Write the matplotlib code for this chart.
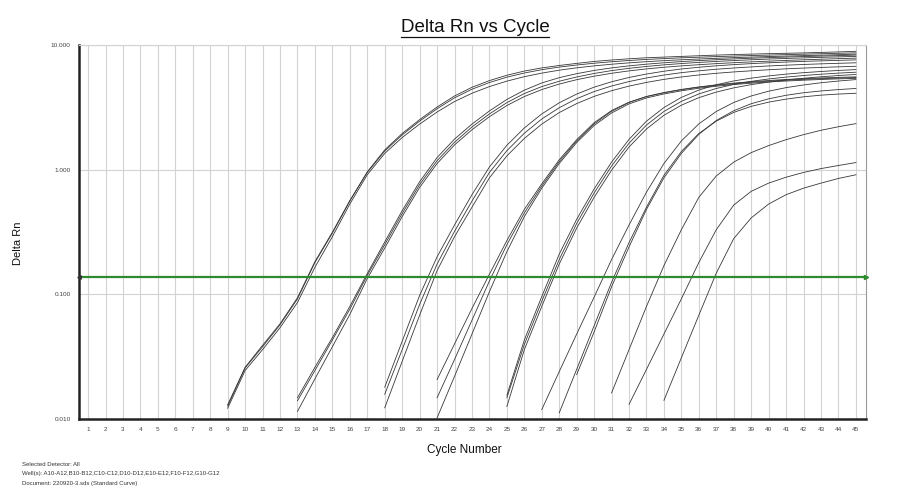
import numpy as np
import matplotlib
matplotlib.use("Agg")
import matplotlib.pyplot as plt
from matplotlib.lines import Line2D
from matplotlib.ticker import NullLocator

plt.rcParams['font.family'] = ['Liberation Sans', 'DejaVu Sans']

# ---------------- data ----------------
cycle_numbers = list(range(1, 46))
y_tick_values = [0.01, 0.1, 1.0, 10.0]
y_tick_labels = ["0.010", "0.100", "1.000", "10.000"]
threshold = 0.139

# first cycle drawn for each well (earlier cycles are below 0.010)
start_cycle = {
    "A10": 9, "A11": 9, "A12": 9,
    "B10": 13, "B11": 13, "B12": 13,
    "C10": 18, "C11": 18, "C12": 18,
    "D10": 21, "D11": 21, "D12": 21,
    "E10": 25, "E11": 25, "E12": 25,
    "F10": 27, "F11": 28, "F12": 29,
    "G10": 31, "G11": 32, "G12": 34,
}

A10 = [0.0127, 0.0257, 0.038, 0.057, 0.092, 0.18, 0.31, 0.56, 0.96, 1.44, 1.95, 2.52, 3.18, 3.90,
       4.58, 5.18, 5.72, 6.18, 6.55, 6.85, 7.12, 7.38, 7.58, 7.75, 7.90, 8.00, 8.10, 8.20, 8.30,
       8.38, 8.45, 8.52, 8.58, 8.64, 8.72, 8.80, 8.90]
A11 = [0.0122, 0.0245, 0.036, 0.054, 0.086, 0.165, 0.29, 0.53, 0.91, 1.35, 1.81, 2.32, 2.90, 3.52,
       4.10, 4.64, 5.13, 5.57, 5.95, 6.28, 6.56, 6.80, 7.01, 7.19, 7.35, 7.49, 7.61, 7.72, 7.82,
       7.92, 8.00, 8.08, 8.15, 8.22, 8.29, 8.36, 8.45]
A12 = [0.0130, 0.026, 0.039, 0.058, 0.094, 0.183, 0.315, 0.565, 0.95, 1.41, 1.90, 2.45, 3.08, 3.77,
       4.42, 5.00, 5.52, 5.96, 6.34, 6.65, 6.91, 7.14, 7.34, 7.51, 7.66, 7.78, 7.89, 7.98, 8.07,
       8.15, 8.23, 8.30, 8.37, 8.44, 8.51, 8.58, 8.65]
B10 = [0.0148, 0.026, 0.045, 0.080, 0.147, 0.263, 0.469, 0.80, 1.25, 1.76, 2.32, 2.96, 3.66, 4.34,
       4.96, 5.47, 5.89, 6.25, 6.55, 6.80, 7.02, 7.20, 7.36, 7.50, 7.62, 7.73, 7.83, 7.92, 8.00,
       8.08, 8.15, 8.22, 8.30]
B11 = [0.0115, 0.021, 0.038, 0.069, 0.134, 0.235, 0.42, 0.72, 1.12, 1.58, 2.09, 2.66, 3.27, 3.86,
       4.39, 4.86, 5.27, 5.62, 5.93, 6.20, 6.43, 6.63, 6.80, 6.95, 7.09, 7.21, 7.32, 7.42, 7.52,
       7.61, 7.69, 7.77, 7.85]
B12 = [0.0140, 0.0245, 0.043, 0.076, 0.142, 0.25, 0.445, 0.76, 1.18, 1.66, 2.20, 2.80, 3.45, 4.08,
       4.64, 5.12, 5.54, 5.91, 6.23, 6.50, 6.73, 6.93, 7.10, 7.25, 7.38, 7.50, 7.61, 7.71, 7.80,
       7.88, 7.96, 8.03, 8.10]
C10 = [0.018, 0.042, 0.098, 0.20, 0.36, 0.63, 1.05, 1.57, 2.16, 2.80, 3.44, 4.04, 4.59, 5.07,
       5.49, 5.85, 6.16, 6.42, 6.63, 6.81, 6.96, 7.09, 7.20, 7.30, 7.39, 7.46, 7.53, 7.60]
C11 = [0.0158, 0.036, 0.083, 0.175, 0.32, 0.56, 0.95, 1.42, 1.96, 2.55, 3.14, 3.71, 4.23, 4.69,
       5.09, 5.44, 5.74, 6.00, 6.21, 6.39, 6.54, 6.67, 6.79, 6.89, 6.98, 7.06, 7.13, 7.20]
C12 = [0.0123, 0.029, 0.068, 0.155, 0.29, 0.50, 0.86, 1.29, 1.78, 2.32, 2.87, 3.39, 3.87, 4.30,
       4.68, 5.01, 5.30, 5.54, 5.75, 5.93, 6.08, 6.21, 6.33, 6.44, 6.53, 6.61, 6.68, 6.75]
D10 = [0.0207, 0.040, 0.077, 0.145, 0.27, 0.48, 0.77, 1.20, 1.74, 2.38, 2.98, 3.48, 3.86, 4.14,
       4.38, 4.58, 4.75, 4.90, 5.02, 5.13, 5.22, 5.30, 5.37, 5.43, 5.48]
D11 = [0.0148, 0.030, 0.062, 0.128, 0.25, 0.45, 0.74, 1.16, 1.70, 2.33, 2.94, 3.46, 3.86, 4.15,
       4.40, 4.61, 4.79, 4.95, 5.08, 5.19, 5.29, 5.37, 5.44, 5.50, 5.55]
D12 = [0.0102, 0.022, 0.048, 0.105, 0.22, 0.42, 0.71, 1.12, 1.65, 2.26, 2.85, 3.37, 3.76, 4.05,
       4.29, 4.50, 4.67, 4.82, 4.94, 5.05, 5.14, 5.22, 5.29, 5.35, 5.40]
E10 = [0.0155, 0.043, 0.096, 0.21, 0.40, 0.70, 1.15, 1.75, 2.45, 3.15, 3.80, 4.35, 4.80, 5.15,
       5.42, 5.65, 5.84, 6.00, 6.13, 6.25, 6.35]
E11 = [0.0148, 0.0396, 0.088, 0.19, 0.37, 0.65, 1.07, 1.63, 2.28, 2.93, 3.53, 4.05, 4.48, 4.83,
       5.11, 5.34, 5.53, 5.69, 5.83, 5.95, 6.05]
E12 = [0.0126, 0.036, 0.080, 0.175, 0.34, 0.60, 0.99, 1.52, 2.12, 2.73, 3.29, 3.78, 4.19, 4.53,
       4.81, 5.04, 5.24, 5.41, 5.56, 5.69, 5.80]
F10 = [0.0119, 0.024, 0.048, 0.095, 0.19, 0.36, 0.66, 1.12, 1.70, 2.33, 2.93, 3.46, 3.90, 4.26,
       4.55, 4.78, 4.98, 5.14, 5.28]
F11 = [0.0112, 0.025, 0.056, 0.125, 0.26, 0.50, 0.90, 1.40, 1.95, 2.45, 2.88, 3.22, 3.48, 3.68,
       3.84, 3.96, 4.04, 4.10]
F12 = [0.0227, 0.050, 0.115, 0.24, 0.48, 0.86, 1.35, 1.92, 2.48, 2.97, 3.38, 3.70, 3.95, 4.14,
       4.28, 4.39, 4.48]
G10 = [0.0162, 0.036, 0.080, 0.17, 0.33, 0.60, 0.89, 1.15, 1.37, 1.56, 1.74, 1.91, 2.07, 2.21, 2.34]
G11 = [0.0131, 0.025, 0.048, 0.092, 0.18, 0.33, 0.52, 0.67, 0.78, 0.87, 0.95, 1.02, 1.08, 1.14]
G12 = [0.0141, 0.031, 0.068, 0.148, 0.28, 0.41, 0.53, 0.63, 0.71, 0.78, 0.85, 0.91]

wells = {
    "A10": A10, "A11": A11, "A12": A12, "B10": B10, "B11": B11, "B12": B12,
    "C10": C10, "C11": C11, "C12": C12, "D10": D10, "D11": D11, "D12": D12,
    "E10": E10, "E11": E11, "E12": E12, "F10": F10, "F11": F11, "F12": F12,
    "G10": G10, "G11": G11, "G12": G12,
}

footer_lines = [
    "Selected Detector: All",
    "Well(s): A10-A12,B10-B12,C10-C12,D10-D12,E10-E12,F10-F12,G10-G12",
    "Document: 220920-3.sds (Standard Curve)",
]

# ---------------- figure ----------------
fig = plt.figure(figsize=(9, 5), dpi=100)
fig.patch.set_facecolor("white")
ax = fig.add_axes([79 / 900, 1 - 419 / 500, (866 - 79) / 900, (419 - 45) / 500])

for name, vals in wells.items():
    s = start_cycle[name]
    x = np.arange(s, s + len(vals))
    ax.plot(x, vals, color="#383838", lw=0.6, zorder=3)

green = "#2e8b2e"
ax.axhline(threshold, color=green, lw=1.6, zorder=4)

ax.set_yscale("log")
ax.set_ylim(0.01, 10)
ax.set_xlim(0.48, 45.58)
ax.plot([45.58], [threshold], marker=">", ms=3, color=green, clip_on=False, zorder=5)
ax.plot([0.48], [threshold], marker="<", ms=2.5, color="#333333", clip_on=False, zorder=5)

ax.set_xticks(cycle_numbers)
ax.set_xticklabels([str(c) for c in cycle_numbers])
ax.set_yticks(y_tick_values)
ax.set_yticklabels(y_tick_labels)
ax.yaxis.set_minor_locator(NullLocator())
ax.tick_params(axis="both", length=0, labelsize=4.6, colors="#444444")
ax.tick_params(axis="x", pad=6)
ax.tick_params(axis="y", pad=6)

ax.grid(True, which="major", color="#d2d2d2", lw=0.8, zorder=0)
ax.set_axisbelow(True)

ax.spines["left"].set_color("#222222")
ax.spines["left"].set_linewidth(1.8)
ax.spines["bottom"].set_color("#222222")
ax.spines["bottom"].set_linewidth(1.8)
ax.spines["top"].set_color("#d2d2d2")
ax.spines["top"].set_linewidth(0.8)
ax.spines["right"].set_color("#999999")
ax.spines["right"].set_linewidth(0.8)

title = fig.text(475 / 900, 1 - 27 / 500, "Delta Rn vs Cycle", ha="center", va="center",
                 fontsize=13.5, color="#111111")
fig.text(18 / 900, 1 - 243 / 500, "Delta Rn", rotation=90, ha="center", va="center",
         fontsize=8, color="#111111")
fig.text(464 / 900, 1 - 450 / 500, "Cycle Number", ha="center", va="center",
         fontsize=8.5, color="#111111")

for i, line in enumerate(footer_lines):
    fig.text(22 / 900, 1 - (465 + 9 * i) / 500, line, ha="left", va="center",
             fontsize=4.3, color="#333333")

# underline the title
fig.canvas.draw()
bb = title.get_window_extent(renderer=fig.canvas.get_renderer())
inv = fig.transFigure.inverted()
(x0, y0), (x1, y1) = inv.transform([[bb.x0, bb.y0], [bb.x1, bb.y1]])
fig.add_artist(Line2D([x0, x1], [y0 - 0.002, y0 - 0.002], transform=fig.transFigure,
                      color="#111111", lw=0.9))

fig.savefig("out.png", dpi=100, facecolor="white")
